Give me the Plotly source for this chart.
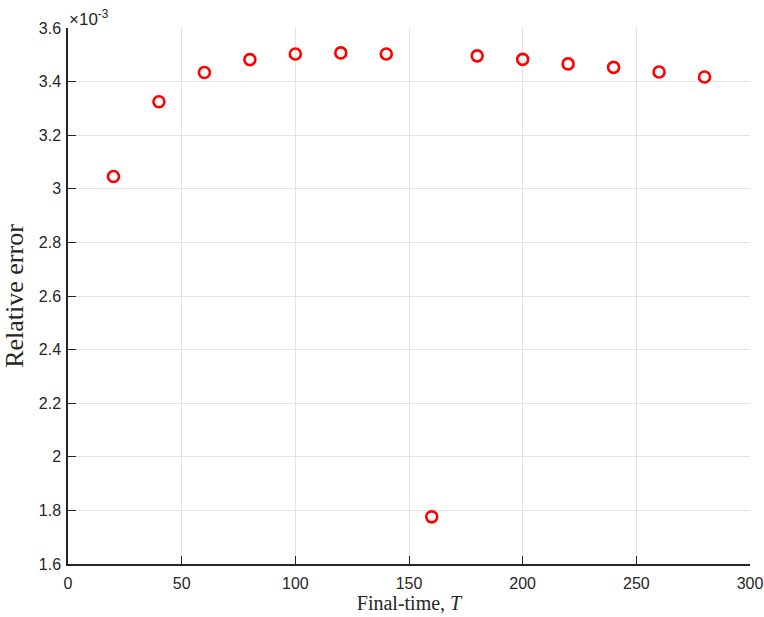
import plotly.graph_objects as go

final_time = [20, 40, 60, 80, 100, 120, 140, 160, 180, 200, 220, 240, 260, 280]
rel_error_e3 = [3.046, 3.325, 3.434, 3.482, 3.503, 3.507, 3.503, 1.776, 3.496, 3.483, 3.466, 3.453, 3.436, 3.417]
y_ticks = [1.6, 1.8, 2.0, 2.2, 2.4, 2.6, 2.8, 3.0, 3.2, 3.4, 3.6]
y_ticktext = ["1.6", "1.8", "2", "2.2", "2.4", "2.6", "2.8", "3", "3.2", "3.4", "3.6"]
x_ticks = [0, 50, 100, 150, 200, 250, 300]

fig = go.Figure()
fig.add_trace(go.Scatter(
    x=final_time, y=rel_error_e3, mode="markers",
    marker=dict(symbol="circle-open", size=11, color="#ff0000", line=dict(width=2.6, color="#ff0000")),
    showlegend=False, cliponaxis=False,
))

tickfont = dict(family="Liberation Sans, Arial", size=16, color="#262626")
fig.update_layout(
    width=764, height=617,
    margin=dict(l=68, r=14, t=28, b=53),
    paper_bgcolor="white", plot_bgcolor="white",
    xaxis=dict(range=[0, 300], tickvals=x_ticks, ticks="inside", ticklen=8, tickcolor="#262626",
               showline=True, linecolor="#262626", linewidth=1.5, mirror=False, automargin=False,
               showgrid=True, gridcolor="#e3e3e3", gridwidth=1, zeroline=False,
               tickfont=tickfont, ticklabelstandoff=4,
               title=dict(text="Final-time, <i>T</i>", font=dict(family="Liberation Serif, Times New Roman", size=20, color="#262626"), standoff=4)),
    yaxis=dict(range=[1.6, 3.6], tickvals=y_ticks, ticktext=y_ticktext, ticks="inside", ticklen=8, tickcolor="#262626",
               showline=True, linecolor="#262626", linewidth=1.5, mirror=False, automargin=False,
               showgrid=True, gridcolor="#e3e3e3", gridwidth=1, zeroline=False,
               tickfont=tickfont, ticklabelstandoff=2,
               title=dict(text="Relative error", font=dict(family="Liberation Serif, Times New Roman", size=26, color="#262626"), standoff=13)),
    annotations=[dict(text="×10<sup>-3</sup>", x=0, y=1, xref="paper", yref="paper", xanchor="left", yanchor="bottom",
                      showarrow=False, font=dict(family="Liberation Sans, Arial", size=17, color="#262626"), xshift=-1, yshift=-3)],
)
fig.write_html("out.html", config={"displayModeBar": False},
               post_script="document.body.style.margin='0';document.body.style.overflow='hidden';")
